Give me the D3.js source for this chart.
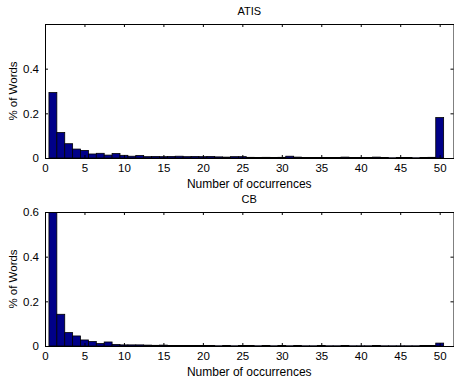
<!DOCTYPE html>
<html>
<head>
<meta charset="utf-8">
<script src="https://cdn.jsdelivr.net/npm/d3@7"></script>
<style>
  body { margin: 0; background: #fff; }
  text { font-family: "Liberation Sans", Arial, Helvetica, sans-serif; fill: #000; }
</style>
</head>
<body>
<div id="chart"></div>
<script>
// occurrence counts 1..50 (50 = "50 or more")
var occurrences = d3.range(1, 51);

var atisValues = [0.293, 0.114, 0.064, 0.040, 0.034, 0.018, 0.021, 0.013, 0.020, 0.012,
                  0.008, 0.011, 0.006, 0.007, 0.006, 0.007, 0.008, 0.006, 0.007, 0.006,
                  0.007, 0.005, 0.004, 0.006, 0.006, 0.003, 0.002, 0.003, 0.002, 0.003,
                  0.008, 0.004, 0.002, 0.002, 0.002, 0.002, 0.002, 0.004, 0.002, 0.002,
                  0.002, 0.004, 0.002, 0.001, 0.002, 0.002, 0.001, 0.002, 0.003, 0.181];

var cbValues = [0.62, 0.142, 0.060, 0.045, 0.027, 0.020, 0.011, 0.018, 0.007, 0.005,
                0.005, 0.005, 0.004, 0.003, 0.004, 0.002, 0.002, 0.002, 0.002, 0.002,
                0.002, 0.001, 0.002, 0.001, 0.002, 0.002, 0.001, 0.002, 0.001, 0.002,
                0.001, 0.002, 0.001, 0.001, 0.002, 0.001, 0.001, 0.002, 0.001, 0.001,
                0.001, 0.002, 0.001, 0.001, 0.001, 0.001, 0.001, 0.002, 0.002, 0.013];

var xTicks = [0, 5, 10, 15, 20, 25, 30, 35, 40, 45, 50];
var atisYTicks = [0, 0.2, 0.4];
var cbYTicks = [0, 0.2, 0.4, 0.6];

var panels = [
  {title: "ATIS", values: atisValues, yTicks: atisYTicks, top: 24},
  {title: "CB", values: cbValues, yTicks: cbYTicks, top: 212}
];

var W = 454, H = 377;
var left = 45, right = 453.5, plotH = 134;

var svg = d3.select("#chart")
  .append("svg")
    .attr("width", W)
    .attr("height", H);

var x = d3.scaleLinear()
  .domain([0, 51.75])
  .range([left, right]);

panels.forEach(function(p, i) {
  var y = d3.scaleLinear()
    .domain([0, 0.6])
    .range([p.top + plotH, p.top]);

  var g = svg.append("g");

  g.append("clipPath")
    .attr("id", "clip" + i)
    .append("rect")
      .attr("x", left)
      .attr("y", p.top)
      .attr("width", right - left)
      .attr("height", plotH);

  // bars
  g.append("g")
    .attr("clip-path", "url(#clip" + i + ")")
    .selectAll("rect")
    .data(occurrences)
    .enter()
    .append("rect")
      .attr("x", function(d) { return x(d - 0.5); })
      .attr("width", function(d) { return x(d + 0.5) - x(d - 0.5); })
      .attr("y", function(d, j) { return y(p.values[j]); })
      .attr("height", function(d, j) { return y(0) - y(p.values[j]); })
      .style("fill", "#000088")
      .style("stroke", "#000")
      .style("stroke-width", 0.8);

  // axes, ticks inside on all sides
  var bottom = g.append("g")
    .attr("transform", "translate(0," + y(0) + ")")
    .call(d3.axisBottom(x).tickValues(xTicks).tickSizeInner(-3).tickSizeOuter(0).tickPadding(6));
  var topAx = g.append("g")
    .attr("transform", "translate(0," + p.top + ")")
    .call(d3.axisTop(x).tickValues(xTicks).tickSizeInner(-3).tickSizeOuter(0).tickFormat(""));
  var leftAx = g.append("g")
    .attr("transform", "translate(" + left + ",0)")
    .call(d3.axisLeft(y).tickValues(p.yTicks).tickSizeInner(-3).tickSizeOuter(0).tickPadding(6)
      .tickFormat(function(d) { return d === 0 ? "0" : d3.format(".1f")(d); }));
  var rightAx = g.append("g")
    .attr("transform", "translate(" + right + ",0)")
    .call(d3.axisRight(y).tickValues(p.yTicks).tickSizeInner(-3).tickSizeOuter(0).tickFormat(""));

  [bottom, topAx, leftAx, rightAx].forEach(function(a) {
    a.select(".domain").attr("stroke", "#000").attr("stroke-width", 1);
    a.selectAll(".tick line").attr("stroke", "#000");
    a.selectAll("text").style("font-size", "11.5px").attr("fill", "#000");
  });

  // title
  g.append("text")
    .attr("x", (left + right) / 2)
    .attr("y", p.top - 9)
    .attr("text-anchor", "middle")
    .style("font-size", "11px")
    .text(p.title);

  // x label
  g.append("text")
    .attr("x", (left + right) / 2)
    .attr("y", y(0) + 29.5)
    .attr("text-anchor", "middle")
    .style("font-size", "12px")
    .text("Number of occurrences");

  // y label
  g.append("text")
    .attr("transform", "translate(17," + (p.top + plotH / 2) + ") rotate(-90)")
    .attr("text-anchor", "middle")
    .style("font-size", "11.5px")
    .text("% of Words");
});
</script>
</body>
</html>
